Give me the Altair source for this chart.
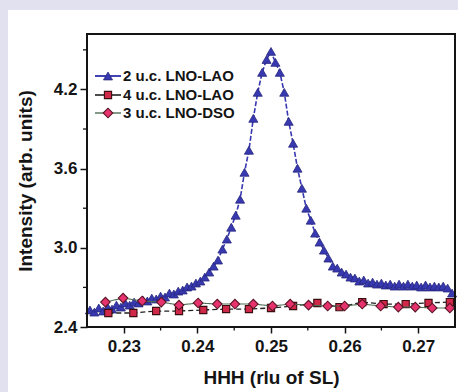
import altair as alt
import pandas as pd

# ---- measured scans: HHH position (rlu of SL) and intensity (arb. units) ----
hhh_2uc_lao = [
    0.2254, 0.2260, 0.2266, 0.2272, 0.2278, 0.2284, 0.2290, 0.2296, 0.2302, 0.2308,
    0.2314, 0.2320, 0.2326, 0.2332, 0.2338, 0.2344, 0.2350, 0.2356, 0.2362, 0.2368,
    0.2374, 0.2380, 0.2386, 0.2392, 0.2398, 0.2404, 0.2410, 0.2416, 0.2422, 0.2428,
    0.2434, 0.2440, 0.2446, 0.2452, 0.2458, 0.2464, 0.2470, 0.2476, 0.2482, 0.2488,
    0.2494, 0.2500, 0.2506, 0.2512, 0.2518, 0.2524, 0.2530, 0.2536, 0.2542, 0.2548,
    0.2554, 0.2560, 0.2566, 0.2572, 0.2578, 0.2584, 0.2590, 0.2596, 0.2602, 0.2608,
    0.2614, 0.2620, 0.2626, 0.2632, 0.2638, 0.2644, 0.2650, 0.2656, 0.2662, 0.2668,
    0.2674, 0.2680, 0.2686, 0.2692, 0.2698, 0.2704, 0.2710, 0.2716, 0.2722, 0.2728,
    0.2734, 0.2740, 0.2746,
]
int_2uc_lao = [
    2.529, 2.513, 2.544, 2.521, 2.551, 2.536, 2.566, 2.551, 2.582, 2.566,
    2.589, 2.582, 2.604, 2.597, 2.619, 2.612, 2.634, 2.627, 2.657, 2.650,
    2.672, 2.680, 2.703, 2.710, 2.733, 2.748, 2.778, 2.816, 2.861, 2.907,
    2.990, 3.066, 3.156, 3.247, 3.368, 3.572, 3.739, 3.981, 4.178, 4.329,
    4.427, 4.488, 4.405, 4.329, 4.178, 3.958, 3.792, 3.603, 3.451, 3.300,
    3.209, 3.111, 3.043, 2.982, 2.922, 2.861, 2.846, 2.816, 2.801, 2.778,
    2.771, 2.748, 2.756, 2.733, 2.740, 2.725, 2.733, 2.718, 2.725, 2.710,
    2.725, 2.710, 2.725, 2.710, 2.718, 2.703, 2.718, 2.703, 2.710, 2.703,
    2.710, 2.695, 2.657,
]

hhh_4uc_lao = [
    0.2279, 0.2313, 0.2344, 0.2375, 0.2408, 0.2439, 0.2470, 0.2500,
    0.2530, 0.2563, 0.2593, 0.2624, 0.2653, 0.2683, 0.2714, 0.2743,
]
int_4uc_lao = [
    2.506, 2.506, 2.521, 2.521, 2.529, 2.536, 2.536, 2.544,
    2.559, 2.582, 2.551, 2.589, 2.574, 2.574, 2.582, 2.589,
]

hhh_3uc_dso = [
    0.2275, 0.2299, 0.2325, 0.2351, 0.2375, 0.2401, 0.2427, 0.2451, 0.2476, 0.2502,
    0.2526, 0.2551, 0.2577, 0.2600, 0.2624, 0.2649, 0.2673, 0.2696, 0.2719, 0.2743,
]
int_3uc_dso = [
    2.589, 2.619, 2.597, 2.589, 2.566, 2.582, 2.574, 2.574, 2.574, 2.559,
    2.574, 2.566, 2.559, 2.559, 2.574, 2.559, 2.551, 2.551, 2.544, 2.544,
]

series_names = ["2 u.c. LNO-LAO", "4 u.c. LNO-LAO", "3 u.c. LNO-DSO"]

x_major = [0.23, 0.24, 0.25, 0.26, 0.27]
x_minor = [0.235, 0.245, 0.255, 0.265]
y_major = [2.4, 3.0, 3.6, 4.2]
y_minor = [2.7, 3.3, 3.9, 4.5]

# ---- layout and styling ----
W, H = 368, 293
PAD = {"left": 87, "top": 34, "right": 3, "bottom": 65}
FONT = "Liberation Sans"
INK = "#141414"
PANEL_EDGE = "#e1e1ef"

STYLES = [
    dict(shape="triangle-up", fill="#3838b0", stroke="#27277e", size=82, sw=0.8,
         line="#3838b0", dash=[5, 2], lw=1.6),
    dict(shape="square", fill="#d02848", stroke="#3a0c10", size=52, sw=1.1,
         line="#202020", dash=[5, 3], lw=1.3),
    dict(shape="diamond", fill="#e6336e", stroke="#5a1424", size=92, sw=1.1,
         line="#4f6f55", dash=[1, 0], lw=1.1),
]

xs = alt.Scale(domain=[0.225, 0.275], nice=False, zero=False)
ys = alt.Scale(domain=[2.4, 4.62], nice=False, zero=False)

x_axis = alt.Axis(
    values=x_major, format=".2f", title="HHH (rlu of SL)", grid=False, domain=False,
    labelFont=FONT, labelFontSize=17, labelFontWeight="bold", labelColor=INK,
    labelPadding=5, labelFlush=False, tickSize=6, tickWidth=1.5, tickColor=INK,
    titleFont=FONT, titleFontSize=19, titleFontWeight="bold", titleColor=INK,
    titlePadding=14, zindex=1,
)
y_axis = alt.Axis(
    values=y_major, format=".1f", title="Intensity (arb. units)", grid=False, domain=False,
    labelFont=FONT, labelFontSize=17, labelFontWeight="bold", labelColor=INK,
    labelPadding=3, labelFlush=False, tickSize=7, tickWidth=1.5, tickColor=INK,
    titleFont=FONT, titleFontSize=19, titleFontWeight="bold", titleColor=INK,
    titlePadding=18, zindex=1,
)

one_row = pd.DataFrame({"k": [0]})

# lavender margins around the white figure panel
margin_left = alt.Chart(one_row).mark_rect(color=PANEL_EDGE).encode(
    x=alt.value(-PAD["left"]), x2=alt.value(-PAD["left"] + 8),
    y=alt.value(-PAD["top"]), y2=alt.value(H + PAD["bottom"]),
)
margin_top = alt.Chart(one_row).mark_rect(color=PANEL_EDGE).encode(
    x=alt.value(-PAD["left"]), x2=alt.value(W + PAD["right"]),
    y=alt.value(-PAD["top"]), y2=alt.value(-PAD["top"] + 10),
)

layers = [margin_left, margin_top]

scans = [
    (hhh_2uc_lao, int_2uc_lao),
    (hhh_4uc_lao, int_4uc_lao),
    (hhh_3uc_dso, int_3uc_dso),
]

for (hx, iy), st in zip(scans, STYLES):
    df = pd.DataFrame({"v": hx, "w": iy})
    base = alt.Chart(df).encode(
        x=alt.X("v:Q", scale=xs, axis=x_axis),
        y=alt.Y("w:Q", scale=ys, axis=y_axis),
    )
    layers.append(base.mark_line(color=st["line"], strokeWidth=st["lw"],
                                 strokeDash=st["dash"]))
    layers.append(base.mark_point(shape=st["shape"], filled=True, fill=st["fill"],
                                  stroke=st["stroke"], strokeWidth=st["sw"],
                                  size=st["size"], opacity=1))

# minor ticks on both axes
layers.append(alt.Chart(pd.DataFrame({"v": x_minor})).mark_rule(color=INK, strokeWidth=1.3).encode(
    x=alt.X("v:Q", scale=xs, axis=x_axis), y=alt.value(H), y2=alt.value(H + 3.5),
))
layers.append(alt.Chart(pd.DataFrame({"w": y_minor})).mark_rule(color=INK, strokeWidth=1.3).encode(
    y=alt.Y("w:Q", scale=ys, axis=y_axis), x=alt.value(-4), x2=alt.value(0),
))

# plot frame
layers.append(alt.Chart(one_row).mark_rect(fill=None, stroke=INK, strokeWidth=2).encode(
    x=alt.value(0), x2=alt.value(W), y=alt.value(0), y2=alt.value(H),
))

# legend in the upper-left corner of the plot
legend_rows = [42, 61, 79]
for name, st, ly in zip(series_names, STYLES, legend_rows):
    row = pd.DataFrame({"label": [name]})
    layers.append(alt.Chart(row).mark_rule(color=st["line"], strokeWidth=st["lw"] + 0.3).encode(
        x=alt.value(8), x2=alt.value(34), y=alt.value(ly)))
    layers.append(alt.Chart(row).mark_point(
        shape=st["shape"], filled=True, fill=st["fill"], stroke=st["stroke"],
        strokeWidth=st["sw"], size=st["size"], opacity=1).encode(
        x=alt.value(21), y=alt.value(ly)))
    layers.append(alt.Chart(row).mark_text(
        align="left", baseline="middle", font=FONT, fontSize=15, fontWeight="bold",
        color=INK).encode(x=alt.value(36), y=alt.value(ly), text="label:N"))

chart = alt.layer(*layers).properties(
    width=W, height=H,
    autosize=alt.AutoSizeParams(type="none"),
    padding=PAD,
    background="white",
).configure_view(strokeWidth=0)

chart.save("out.html", embed_options={"renderer": "svg", "actions": False})
